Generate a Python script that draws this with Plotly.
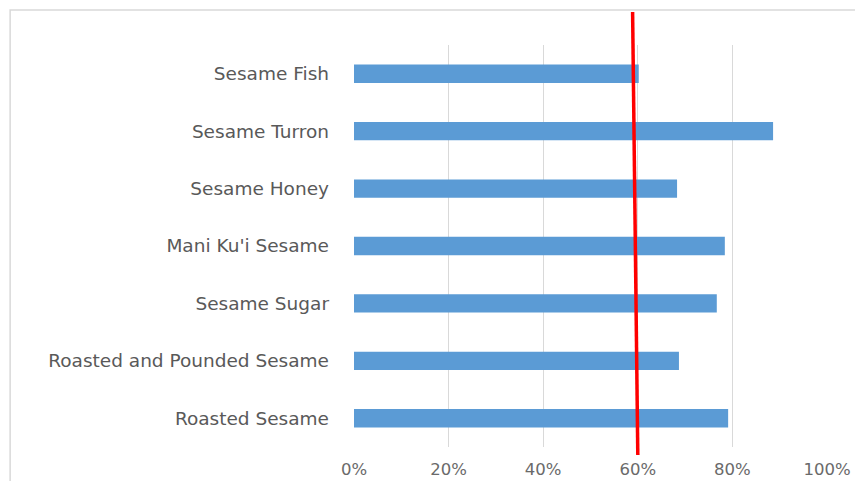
import plotly.graph_objects as go

categories = ["Roasted Sesame", "Roasted and Pounded Sesame", "Sesame Sugar",
              "Mani Ku'i Sesame", "Sesame Honey", "Sesame Turron", "Sesame Fish"]
values = [0.791, 0.687, 0.767, 0.784, 0.683, 0.886, 0.602]
tick_vals = [0, 0.2, 0.4, 0.6, 0.8, 1.0]
tick_text = ["0%", "20%", "40%", "60%", "80%", "100%"]
threshold_top = 0.589
threshold_bottom = 0.600

fig = go.Figure()
fig.add_trace(go.Bar(
    y=categories, x=values, orientation="h",
    marker=dict(color="#5b9bd5", line=dict(width=0)),
    width=0.32,
))

fig.add_shape(type="line", xref="x", yref="paper",
              x0=threshold_top, x1=threshold_bottom, y0=1.082, y1=-0.02,
              line=dict(color="#ff0000", width=3.5))
# chart frame
fig.add_shape(type="rect", xref="paper", yref="paper",
              x0=-0.727, x1=1.2, y0=-0.2, y1=1.087,
              line=dict(color="#d9d9d9", width=1.5), layer="below")

fig.update_layout(
    width=855, height=481,
    margin=dict(l=354, r=28, t=45, b=34),
    paper_bgcolor="white", plot_bgcolor="white",
    showlegend=False,
    font=dict(family="DejaVu Sans", size=17, color="#595959"),
    xaxis=dict(range=[0, 1.0], tickvals=tick_vals, ticktext=tick_text,
               showgrid=True, gridcolor="#d9d9d9", gridwidth=1,
               zeroline=False, showline=False, ticks="", automargin=False,
               ticklabelstandoff=10, tickfont=dict(size=16.5, color="#6a6a6a")),
    yaxis=dict(showgrid=False, zeroline=False, showline=False, ticks="",
               automargin=False,
               ticklabelstandoff=24, tickfont=dict(size=18.5, color="#595959")),
)

fig.write_html("out.html")
